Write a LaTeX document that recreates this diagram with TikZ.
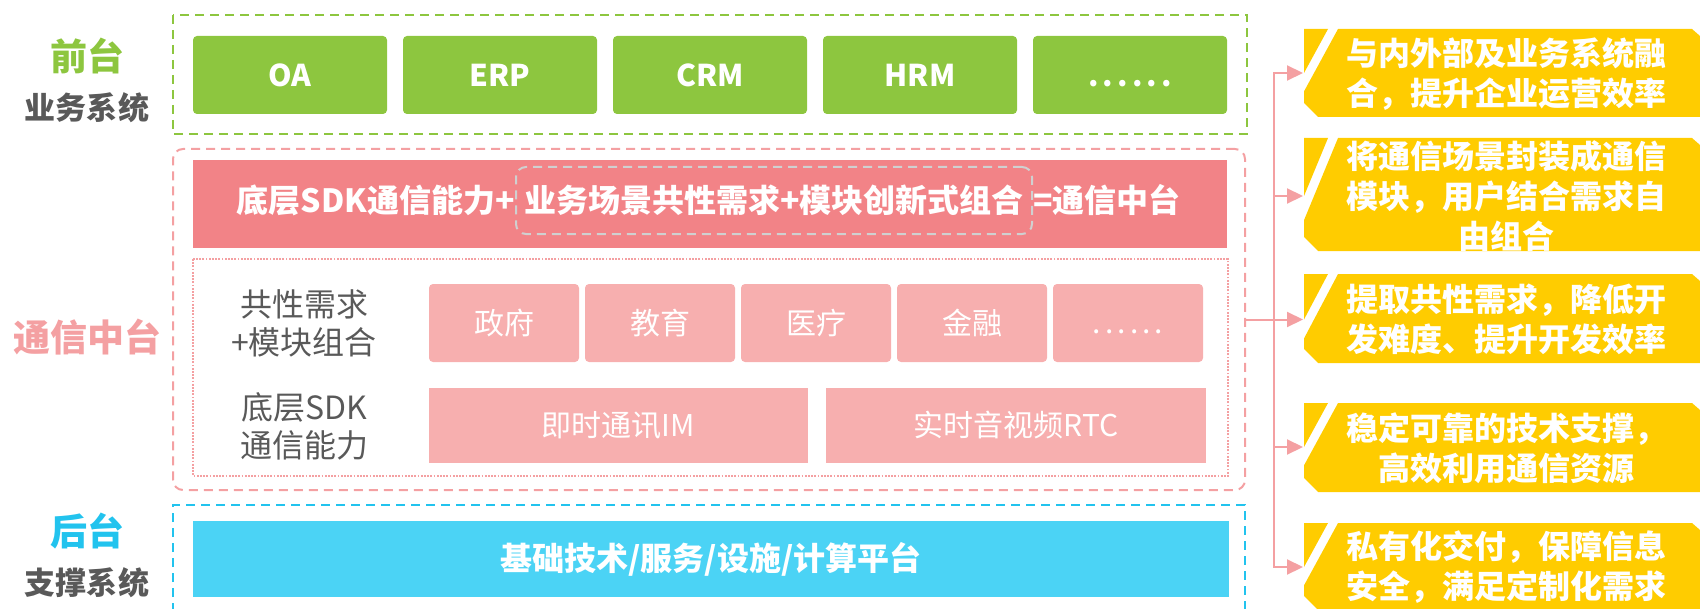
\documentclass[tikz,border=0pt]{standalone}
\usepackage{fontspec}
\setmainfont{Noto Sans CJK SC}
\usetikzlibrary{arrows.meta}
\definecolor{frontgreen}{HTML}{8DC63F}
\definecolor{labelgray}{HTML}{595959}
\definecolor{midpink}{HTML}{F4A0A2}
\definecolor{headpink}{HTML}{F28387}
\definecolor{scenepink}{HTML}{F7AFAF}
\definecolor{dashgray}{HTML}{D0D0D0}
\definecolor{backblue}{HTML}{22C3EE}
\definecolor{basecyan}{HTML}{4BD3F5}
\definecolor{tagyellow}{HTML}{FFCC00}
\newcommand\dotrow{\vphantom{O}.\kern2pt.\kern2pt.\kern2pt.\kern2pt.\kern2pt.}

\begin{document}
\begin{tikzpicture}[x=0.5pt,y=-0.5pt,
  sidelabel/.style={font=\fontsize{18.5pt}{20pt}\selectfont\bfseries},
  sidesub/.style={text=labelgray,font=\fontsize{15.5pt}{18pt}\selectfont\bfseries},
  appbox/.style={fill=frontgreen,rounded corners=2pt,text=white,minimum width=97pt,minimum height=39pt,font=\fontsize{15pt}{18pt}\selectfont\bfseries},
  scenebox/.style={fill=scenepink,rounded corners=2pt,text=white,minimum width=75pt,minimum height=39pt,font=\fontsize{15pt}{18pt}\selectfont},
  sdkbox/.style={fill=scenepink,text=white,minimum height=37.5pt,font=\fontsize{15pt}{18pt}\selectfont},
  rowlabel/.style={text=labelgray,align=center,font=\fontsize{16pt}{19pt}\selectfont},
  headfont/.style={text=white,font=\fontsize{16pt}{19pt}\selectfont\bfseries},
  tagtext/.style={text=white,align=center,font=\fontsize{16pt}{20pt}\selectfont\bfseries},
  dashline/.style={line width=1pt,dash pattern=on 4.5pt off 3pt},
  linkline/.style={draw=midpink,line width=1pt},
  link/.style={linkline,-{Triangle[length=8pt,width=7.5pt]}}
]
  \useasboundingbox (0,0) rectangle (1700,609);

  \draw[frontgreen,dashline] (173,15) rectangle (1247,134);
  \foreach[count=\i] \t in {OA,ERP,CRM,HRM,\dotrow} {
    \node[appbox] (app\i) at (80+210*\i,75) {\t};
  }
  \node[sidelabel,text=frontgreen] (front) at (87,56) {前台};
  \node[sidesub] (frontsub) at (87,108) {业务系统};

  \node[draw=midpink,dashline,rounded corners=5pt,
    minimum width=536pt,minimum height=170.5pt] (mid) at (709,319.5) {};
  \node[fill=headpink,minimum width=517pt,minimum height=44pt] (head) at (710,204) {};
  \node[draw=dashgray,dashline,rounded corners=5pt,
    minimum width=258pt,minimum height=33.5pt,inner sep=0pt,headfont] (headmid) at (774,200.5)
    {业务场景共性需求+模块创新式组合};
  \node[headfont,inner sep=0pt,anchor=base east] (headl) at (headmid.base west) {底层SDK通信能力+};
  \node[headfont,inner sep=0pt,anchor=base west] (headr) at (headmid.base east) {=通信中台};
  \draw[midpink,line width=1pt,dash pattern=on 0.9pt off 0.7pt] (193,259) rectangle (1228,476);
  \foreach[count=\i] \t in {政府,教育,医疗,金融,\dotrow} {
    \node[scenebox] (scene\i) at (348+156*\i,323) {\t};
  }
  \node[sdkbox,minimum width=189.5pt] (im) at (618.5,425.5) {即时通讯IM};
  \node[sdkbox,minimum width=190pt] (rtc) at (1016,425.5) {实时音视频RTC};
  \node[rowlabel] (needlabel) at (304,323) {共性需求\\+模块组合};
  \node[rowlabel] (sdklabel) at (304,426) {底层SDK\\通信能力};
  \node[sidelabel,text=midpink] (midlabel) at (87,337) {通信中台};

  \draw[backblue,dashline] (173,612) -- (173,505) -- (1245,505) -- (1245,612);
  \node[fill=basecyan,text=white,minimum width=518pt,minimum height=38pt,
    font=\fontsize{16pt}{19pt}\selectfont\bfseries] (base) at (711,559) {基础技术/服务/设施/计算平台};
  \node[sidelabel,text=backblue] (back) at (87,531) {后台};
  \node[sidesub] (backsub) at (87,583) {支撑系统};

  \foreach \ya/\yb/\yc [count=\i] in {29/117/73,138/251/196,274/363/319.5,403/492/447,523/610/567} {
    \fill[tagyellow] (1304,\ya) -- (1328,\ya) -- (1304,\yc) -- cycle;
    \fill[tagyellow] (1338,\ya) -- (1692,\ya) -- (1700,\ya+7) -- (1700,\yb) -- (1318,\yb)
      -- (1304,\yb-14) -- (1304,{\ya+(\yc-\ya)*1.4167}) -- cycle;
    \coordinate (tag\i) at (1303,\yc);
  }
  \node[tagtext] (tagtext1) at (1506,74) {与内外部及业务系统融\\合，提升企业运营效率};
  \node[tagtext] (tagtext2) at (1506,196) {将通信场景封装成通信\\模块，用户结合需求自\\由组合};
  \node[tagtext] (tagtext3) at (1506,319) {提取共性需求，降低开\\发难度、提升开发效率};
  \node[tagtext] (tagtext4) at (1506,448) {稳定可靠的技术支撑，\\高效利用通信资源};
  \node[tagtext] (tagtext5) at (1506,567) {私有化交付，保障信息\\安全，满足定制化需求};

  \coordinate (bus) at (1274,319.5);
  \draw[linkline] (mid.east) -- (bus);
  \foreach \i in {1,...,5} {
    \draw[link] (bus) |- (tag\i);
  }
\end{tikzpicture}
\end{document}
